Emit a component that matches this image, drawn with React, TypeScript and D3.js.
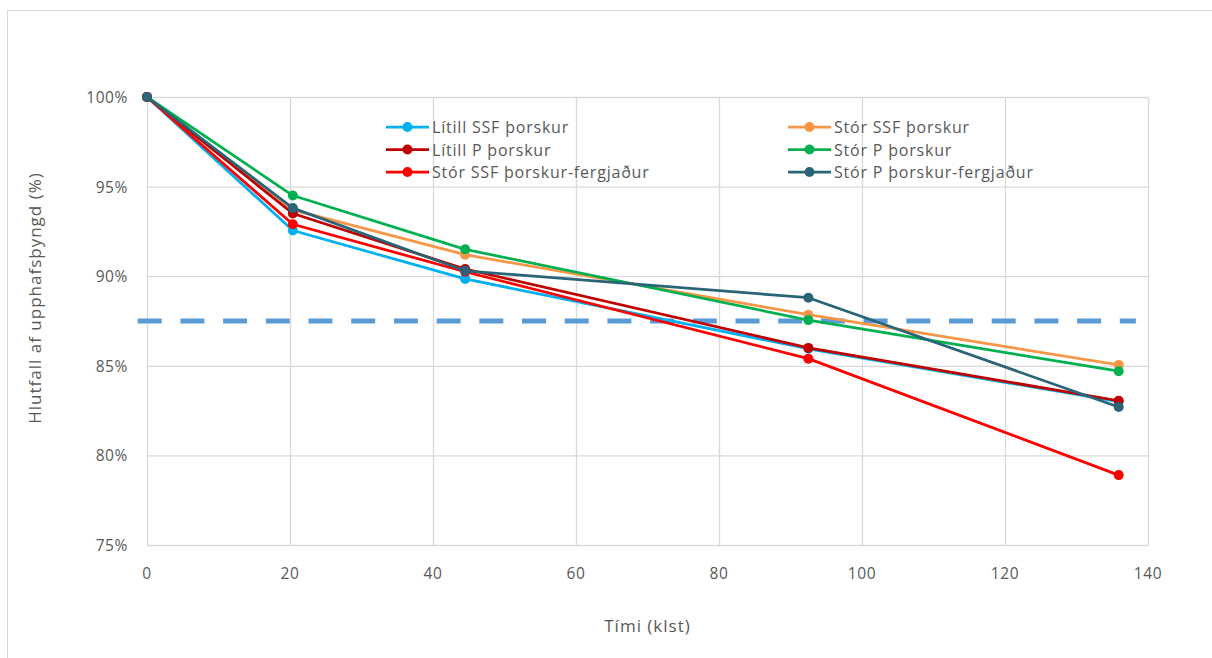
import React, { useEffect, useRef } from 'react';
import * as d3 from 'd3';

const hours = [0, 20.4, 44.5, 92.5, 135.9];

const seriesNames = [
  'Lítill SSF þorskur',
  'Stór SSF þorskur',
  'Lítill P þorskur',
  'Stór P þorskur',
  'Stór SSF þorskur-fergjaður',
  'Stór P þorskur-fergjaður',
];
const seriesColors = ['#00B0F0', '#F79646', '#C00000', '#00B050', '#FF0000', '#2A6478'];

const litillSSF = [100, 92.55, 89.85, 85.95, 83.0];
const storSSF = [100, 93.7, 91.2, 87.85, 85.05];
const litillP = [100, 93.5, 90.4, 86.0, 83.05];
const storP = [100, 94.5, 91.5, 87.55, 84.7];
const storSSFferg = [100, 92.9, 90.25, 85.4, 78.9];
const storPferg = [100, 93.8, 90.3, 88.8, 82.7];
const allSeries = [litillSSF, storSSF, litillP, storP, storSSFferg, storPferg];

const thresholdX = [-1.3, 138.3];
const thresholdY = 87.5;

const xTicks = [0, 20, 40, 60, 80, 100, 120, 140];
const yTicks = [75, 80, 85, 90, 95, 100];

const W = 1212;
const H = 658;
const font = '"Open Sans", Lato, sans-serif';

const App = () => {
  const ref = useRef<SVGSVGElement>(null);

  useEffect(() => {
    if (!ref.current) return;
    const svg = d3.select(ref.current);
    svg.selectAll('*').remove();

    const margin = { left: 147, right: W - 1148, top: 97, bottom: H - 545 };

    // frame
    svg
      .append('rect')
      .attr('x', 7.5)
      .attr('y', 10.5)
      .attr('width', W)
      .attr('height', H)
      .attr('fill', '#fff')
      .attr('stroke', '#D9D9D9');

    const x = d3.scaleLinear().domain([0, 140]).range([margin.left, W - margin.right]);
    const y = d3.scaleLinear().domain([75, 100]).range([H - margin.bottom, margin.top]);

    // ------- Grid -------
    svg
      .append('g')
      .selectAll('line')
      .data(yTicks)
      .enter()
      .append('line')
      .attr('x1', x(0))
      .attr('x2', x(140))
      .attr('y1', (d) => y(d) + 0.5)
      .attr('y2', (d) => y(d) + 0.5)
      .attr('stroke', '#D9D9D9')
      .attr('stroke-width', 1.3);

    svg
      .append('g')
      .selectAll('line')
      .data(xTicks)
      .enter()
      .append('line')
      .attr('x1', (d) => x(d) + 0.5)
      .attr('x2', (d) => x(d) + 0.5)
      .attr('y1', y(100))
      .attr('y2', y(75))
      .attr('stroke', '#D9D9D9')
      .attr('stroke-width', 1.3);

    // ------- Tick labels -------
    svg
      .append('g')
      .selectAll('text')
      .data(yTicks)
      .enter()
      .append('text')
      .attr('x', x(0) - 19)
      .attr('y', (d) => y(d) + 6)
      .attr('text-anchor', 'end')
      .attr('font-family', font)
      .attr('font-size', 15.5)
      .attr('letter-spacing', 0.6)
      .attr('fill', '#595959')
      .text((d) => `${d}%`);

    svg
      .append('g')
      .selectAll('text')
      .data(xTicks)
      .enter()
      .append('text')
      .attr('x', (d) => x(d))
      .attr('y', y(75) + 34)
      .attr('text-anchor', 'middle')
      .attr('font-family', font)
      .attr('font-size', 15.5)
      .attr('letter-spacing', 0.6)
      .attr('fill', '#595959')
      .text((d) => d);

    // ------- Axis titles -------
    svg
      .append('text')
      .attr('x', (x(0) + x(140)) / 2)
      .attr('y', 632)
      .attr('text-anchor', 'middle')
      .attr('font-family', font)
      .attr('font-size', 17)
      .attr('letter-spacing', 1)
      .attr('fill', '#595959')
      .text('Tími (klst)');

    svg
      .append('text')
      .attr('transform', `translate(41, 298) rotate(-90)`)
      .attr('text-anchor', 'middle')
      .attr('font-family', font)
      .attr('font-size', 17)
      .attr('letter-spacing', 1)
      .attr('fill', '#595959')
      .text('Hlutfall af upphafsþyngd (%)');

    // ------- Threshold -------
    svg
      .append('line')
      .attr('x1', x(thresholdX[0]))
      .attr('x2', x(thresholdX[1]))
      .attr('y1', y(thresholdY))
      .attr('y2', y(thresholdY))
      .attr('stroke', '#5B9BD5')
      .attr('stroke-width', 5)
      .attr('stroke-dasharray', '24,18.7');

    // ------- Lines + points -------
    const line = d3
      .line<number>()
      .x((_, i) => x(hours[i]))
      .y((d) => y(d));

    allSeries.forEach((vals, si) => {
      const g = svg.append('g');
      g.append('path')
        .datum(vals)
        .attr('fill', 'none')
        .attr('stroke', seriesColors[si])
        .attr('stroke-width', 2.75)
        .attr('stroke-linejoin', 'round')
        .attr('d', line);
      g.selectAll('circle')
        .data(vals)
        .enter()
        .append('circle')
        .attr('cx', (_, i) => x(hours[i]))
        .attr('cy', (d) => y(d))
        .attr('r', 5)
        .attr('fill', seriesColors[si]);
    });

    // ------- Legend -------
    const legend = svg.append('g');
    seriesNames.forEach((name, i) => {
      const col = i % 2;
      const row = Math.floor(i / 2);
      const lx = col === 0 ? 386 : 788;
      const ly = 127 + row * 22.5;
      const item = legend.append('g').attr('transform', `translate(${lx},${ly})`);
      item
        .append('line')
        .attr('x1', 0)
        .attr('x2', 43)
        .attr('y1', 0)
        .attr('y2', 0)
        .attr('stroke', seriesColors[i])
        .attr('stroke-width', 2.75);
      item.append('circle').attr('cx', 21.5).attr('cy', 0).attr('r', 5).attr('fill', seriesColors[i]);
      item
        .append('text')
        .attr('x', 46)
        .attr('y', 6)
        .attr('font-family', font)
        .attr('font-size', 16)
        .attr('letter-spacing', 0.8)
        .attr('fill', '#595959')
        .text(name);
    });
  }, []);

  return (
    <div style={{ position: 'fixed', left: 0, top: 0, width: W, height: H, background: '#fff' }}>
      <svg ref={ref} width={W} height={H} />
    </div>
  );
};

export default App;
